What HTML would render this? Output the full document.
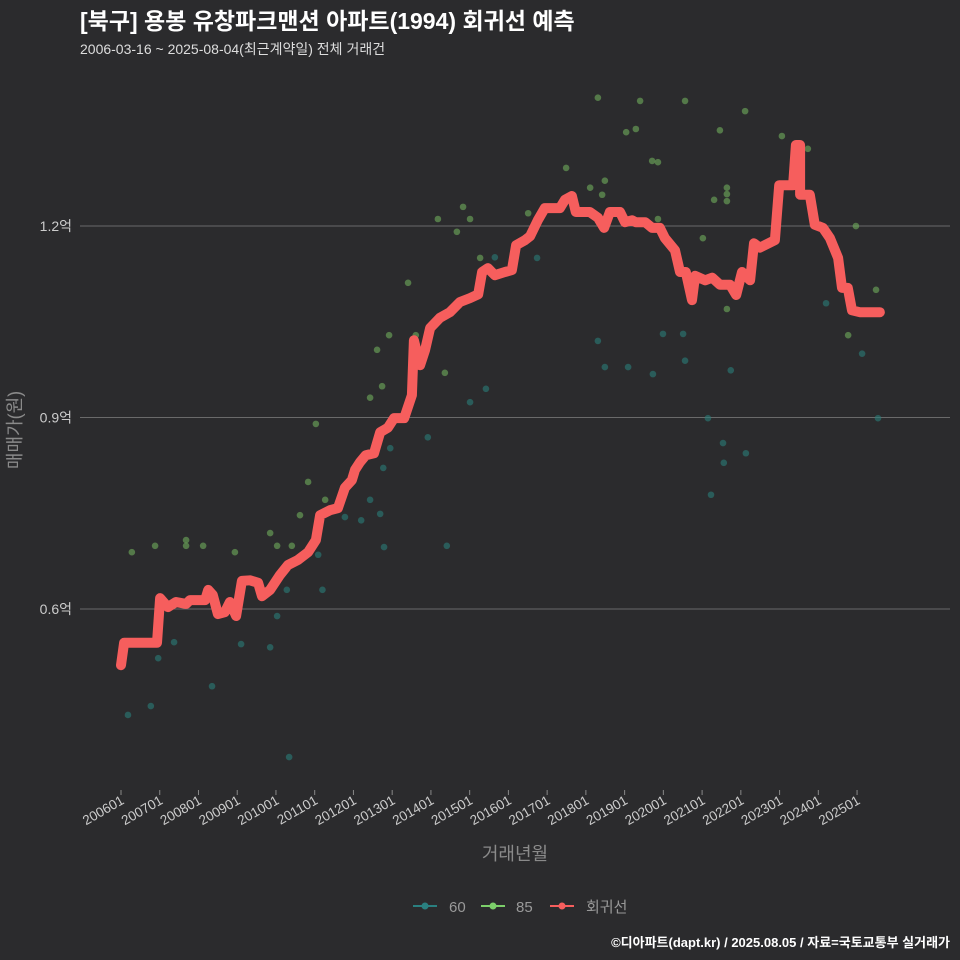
<!DOCTYPE html>
<html><head><meta charset="utf-8"><style>
body{margin:0;background:#2b2b2d;}
svg{display:block;font-family:"Liberation Sans","Noto Sans CJK KR",sans-serif;}
</style></head><body>
<svg width="960" height="960" viewBox="0 0 960 960" xmlns="http://www.w3.org/2000/svg">
<rect width="960" height="960" fill="#2b2b2d"/>
<text x="80" y="29" fill="#ffffff" font-size="23" font-weight="bold">[북구] 용봉 유창파크맨션 아파트(1994) 회귀선 예측</text>
<text x="80" y="54" fill="#dddddd" font-size="14">2006-03-16 ~ 2025-08-04(최근계약일) 전체 거래건</text>
<g id="grid"></g>
<g id="xaxis"></g>
<g id="pts"></g>
<path id="reg" fill="none" stroke="#f65e5d" stroke-width="10" stroke-linejoin="round" stroke-linecap="round"/>
<text transform="translate(21,430) rotate(-90)" text-anchor="middle" fill="#8a8a8a" font-size="18">매매가(원)</text>
<text x="515" y="860" text-anchor="middle" fill="#8a8a8a" font-size="18">거래년월</text>
<g>
<g><line x1="413" y1="906" x2="437" y2="906" stroke="#2a8080" stroke-width="2"/><circle cx="425" cy="906" r="3.5" fill="#2a8080"/><text x="449" y="912" fill="#999" font-size="15">60</text></g>
<g><line x1="481" y1="906" x2="505" y2="906" stroke="#7ccf6a" stroke-width="2"/><circle cx="493" cy="906" r="3.5" fill="#7ccf6a"/><text x="516" y="912" fill="#999" font-size="15">85</text></g>
<g><line x1="550" y1="906" x2="574" y2="906" stroke="#f65e5d" stroke-width="2"/><circle cx="562" cy="906" r="3.5" fill="#f65e5d"/><text x="586" y="912" fill="#999" font-size="15">회귀선</text></g>
</g>
<text x="950" y="947" text-anchor="end" fill="#ffffff" font-size="13" font-weight="bold">©디아파트(dapt.kr) / 2025.08.05 / 자료=국토교통부 실거래가</text>
</svg>
<script>
const yTicks=[0.6,0.9,1.2];
const yTickLabels=["0.6억","0.9억","1.2억"];
const xTickYears=[2006,2007,2008,2009,2010,2011,2012,2013,2014,2015,2016,2017,2018,2019,2020,2021,2022,2023,2024,2025];
const xTickLabels=["200601","200701","200801","200901","201001","201101","201201","201301","201401","201501","201601","201701","201801","201901","202001","202101","202201","202301","202401","202501"];
const regYears=[2006,2006.08,2006.62,2006.93,2007.01,2007.21,2007.42,2007.68,2007.78,2008.17,2008.25,2008.37,2008.5,2008.68,2008.81,2008.97,2009.12,2009.33,2009.54,2009.64,2009.85,2010.1,2010.31,2010.57,2010.83,2011.03,2011.14,2011.4,2011.6,2011.78,2011.96,2012.04,2012.17,2012.32,2012.53,2012.69,2012.89,2013.05,2013.31,2013.51,2013.56,2013.72,2013.85,2013.98,2014.23,2014.49,2014.75,2015.01,2015.22,2015.32,2015.47,2015.65,2015.91,2016.09,2016.2,2016.43,2016.56,2016.76,2016.94,2017.33,2017.46,2017.64,2017.74,2018.1,2018.31,2018.47,2018.62,2018.88,2019.01,2019.19,2019.29,2019.53,2019.71,2019.91,2020.04,2020.3,2020.43,2020.58,2020.74,2020.82,2021.08,2021.26,2021.46,2021.72,2021.88,2022.03,2022.24,2022.34,2022.49,2022.88,2022.99,2023.35,2023.42,2023.53,2023.53,2023.78,2023.91,2024.12,2024.3,2024.51,2024.61,2024.76,2024.87,2025.07,2025.59];
const regPrices=[0.512,0.547,0.547,0.547,0.617,0.603,0.611,0.608,0.614,0.614,0.63,0.622,0.592,0.595,0.611,0.589,0.644,0.645,0.641,0.62,0.63,0.653,0.669,0.677,0.689,0.708,0.747,0.755,0.758,0.79,0.802,0.818,0.83,0.841,0.844,0.877,0.884,0.899,0.899,0.935,1.021,0.982,1.006,1.04,1.056,1.065,1.081,1.087,1.093,1.128,1.134,1.123,1.128,1.131,1.17,1.178,1.184,1.209,1.228,1.228,1.241,1.247,1.222,1.222,1.213,1.197,1.222,1.222,1.206,1.209,1.206,1.206,1.197,1.197,1.181,1.162,1.128,1.128,1.084,1.122,1.115,1.119,1.108,1.108,1.092,1.128,1.115,1.173,1.166,1.178,1.264,1.264,1.327,1.327,1.249,1.249,1.202,1.197,1.181,1.15,1.103,1.103,1.068,1.065,1.065];
const s85Years=[2006.28,2006.88,2007.68,2007.68,2008.12,2008.94,2009.85,2010.03,2010.41,2010.62,2010.83,2011.03,2011.27,2012.43,2012.61,2012.74,2012.92,2013.41,2013.61,2014.18,2014.36,2014.67,2014.83,2015.01,2015.27,2016.51,2017.49,2018.11,2018.31,2018.42,2018.49,2019.04,2019.29,2019.4,2019.71,2019.86,2019.86,2020.56,2021.02,2021.31,2021.46,2021.64,2021.64,2021.64,2022.11,2021.64,2023.06,2023.73,2024.97,2024.77,2025.49];
const s85Prices=[0.689,0.699,0.708,0.699,0.699,0.689,0.719,0.699,0.699,0.747,0.799,0.89,0.771,0.931,1.006,0.949,1.029,1.111,1.029,1.211,0.97,1.191,1.23,1.211,1.15,1.22,1.291,1.26,1.401,1.249,1.271,1.347,1.352,1.396,1.302,1.3,1.211,1.396,1.181,1.241,1.35,1.26,1.25,1.239,1.38,1.07,1.341,1.321,1.2,1.029,1.1];
const s60Years=[2006.18,2006.96,2007.37,2006.77,2008.35,2009.1,2009.85,2010.03,2010.28,2010.34,2011.09,2011.2,2011.78,2012.2,2012.43,2012.69,2012.77,2012.79,2012.95,2013.92,2014.41,2015.42,2015.65,2015.01,2016.74,2018.31,2018.49,2019.09,2019.73,2019.99,2020.51,2020.56,2021.15,2021.23,2021.54,2021.56,2021.74,2022.13,2024.2,2025.13,2025.54];
const s60Prices=[0.434,0.523,0.548,0.448,0.479,0.545,0.54,0.589,0.63,0.368,0.685,0.63,0.744,0.739,0.771,0.749,0.821,0.697,0.852,0.869,0.699,0.945,1.151,0.924,1.15,1.02,0.979,0.979,0.968,1.031,1.031,0.989,0.899,0.779,0.86,0.829,0.974,0.844,1.079,1.0,0.899];

const X=y=>121+(y-2006)*38.74;
const Y=p=>609-(p-0.6)*638.3;
const NS="http://www.w3.org/2000/svg";
function mk(tag,attrs,parent){const e=document.createElementNS(NS,tag);for(const k in attrs)e.setAttribute(k,attrs[k]);parent.appendChild(e);return e;}
const grid=document.getElementById('grid');
yTicks.forEach((t,i)=>{
  const l=mk('line',{x1:80,x2:950,y1:Y(t),y2:Y(t),stroke:'#6a6a6a','stroke-width':1},grid);
  
  
  const tx=mk('text',{x:72,y:Y(t)+5,'text-anchor':'end',fill:'#cccccc','font-size':14},grid);
  tx.textContent=yTickLabels[i];
  
  
});
const xa=document.getElementById('xaxis');
xTickYears.forEach((yr,i)=>{
  const x=X(yr);
  const tk=mk('line',{x1:x,x2:x,y1:790,y2:795,stroke:'#888','stroke-width':1},xa);
  
  
  const tx=mk('text',{transform:`translate(${x+4},${803}) rotate(-30)`,'text-anchor':'end',fill:'#cccccc','font-size':13.5},xa);
  tx.textContent=xTickLabels[i];
  
  
});
const pts=document.getElementById('pts');
s60Years.forEach((yr,i)=>{
  const c=mk('circle',{cx:X(yr),cy:Y(s60Prices[i]),r:3.3,fill:'#2a7d78','fill-opacity':0.6},pts);
  
  
});
s85Years.forEach((yr,i)=>{
  const c=mk('circle',{cx:X(yr),cy:Y(s85Prices[i]),r:3.3,fill:'#6fae5c','fill-opacity':0.6},pts);
  
  
});
document.getElementById('reg').setAttribute('d',regYears.map((yr,i)=>(i?'L':'M')+X(yr).toFixed(1)+','+Y(regPrices[i]).toFixed(1)).join(''));
</script>
</body></html>
